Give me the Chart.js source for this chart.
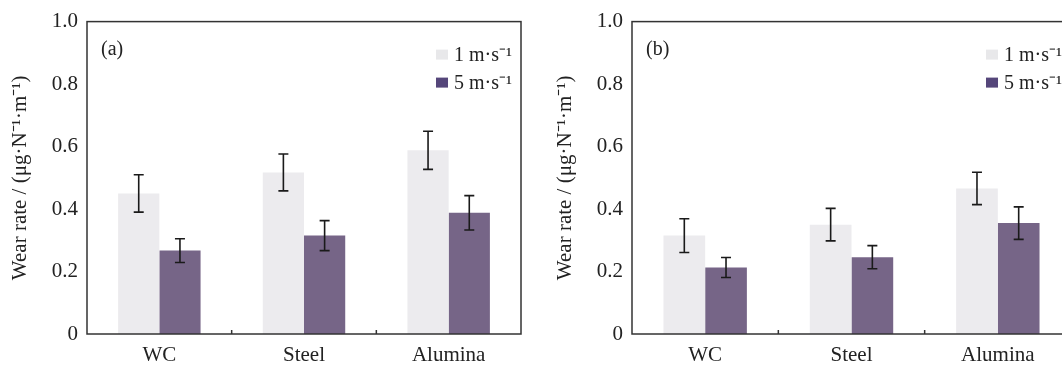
<!DOCTYPE html>
<html>
<head>
<meta charset="utf-8">
<script src="https://cdn.jsdelivr.net/npm/chart.js@4.4.1/dist/chart.umd.min.js"></script>
<style>
  html, body { margin: 0; padding: 0; background: #fff; }
  body { width: 1062px; height: 365px; overflow: hidden; position: relative; }
  canvas { position: absolute; top: 0; }
</style>
</head>
<body>
<canvas id="chartA" width="540" height="365" style="left:0"></canvas>
<canvas id="chartB" width="545" height="365" style="left:545px"></canvas>
<script>
const categories = ['WC', 'Steel', 'Alumina']
const seriesLabels = ['1 m·s⁻¹', '5 m·s⁻¹']
const panelLabels = ['(a)', '(b)']
const yTickLabels = ['0', '0.2', '0.4', '0.6', '0.8', '1.0']
const yTitle = 'Wear rate / (μg·N⁻¹·m⁻¹)'

// panel (a)
const slowA = [0.450, 0.517, 0.588]
const slowErrA = [0.060, 0.059, 0.061]
const fastA = [0.267, 0.315, 0.388]
const fastErrA = [0.038, 0.048, 0.055]

// panel (b)
const slowB = [0.315, 0.350, 0.466]
const slowErrB = [0.054, 0.052, 0.052]
const fastB = [0.213, 0.246, 0.355]
const fastErrB = [0.032, 0.037, 0.052]

const barColors = ['#ecebee', '#766587']
const swatchColors = ['#e8e8ea', '#55467a']
const serif = '"Liberation Serif", "Times New Roman", serif'
const ink = '#222'

const extrasPlugin = {
  id: 'extras',
  afterDatasetsDraw(chart, args, opts) {
    const { ctx, chartArea: area, scales: { x, y } } = chart
    ctx.save()
    // error bars
    ctx.strokeStyle = '#1a1a1a'
    ctx.lineWidth = 1.6
    chart.data.datasets.forEach((ds, i) => {
      const meta = chart.getDatasetMeta(i)
      meta.data.forEach((bar, j) => {
        const e = ds.errors[j]
        const top = y.getPixelForValue(ds.data[j] + e)
        const bot = y.getPixelForValue(ds.data[j] - e)
        ctx.beginPath()
        ctx.moveTo(bar.x, top); ctx.lineTo(bar.x, bot)
        ctx.moveTo(bar.x - 5, top); ctx.lineTo(bar.x + 5, top)
        ctx.moveTo(bar.x - 5, bot); ctx.lineTo(bar.x + 5, bot)
        ctx.stroke()
      })
    })
    // frame
    ctx.strokeStyle = '#333'
    ctx.lineWidth = 1.5
    ctx.strokeRect(area.left, area.top, area.right - area.left, area.bottom - area.top)
    // inner category boundary ticks
    ctx.beginPath()
    for (let i = 0; i < categories.length - 1; i++) {
      const bx = (x.getPixelForTick(i) + x.getPixelForTick(i + 1)) / 2
      ctx.moveTo(bx, area.bottom); ctx.lineTo(bx, area.bottom - 4)
    }
    ctx.stroke()
    // panel label
    ctx.fillStyle = ink
    ctx.font = '20px ' + serif
    ctx.textBaseline = 'middle'
    ctx.textAlign = 'left'
    ctx.fillText(opts.panel, area.left + 14, area.top + 28)
    // legend in top-right corner
    const widths = chart.data.datasets.map(ds => ctx.measureText(ds.label).width)
    const textX = area.right - 9 - Math.max(...widths)
    chart.data.datasets.forEach((ds, i) => {
      const cy = area.top + 33 + i * 28
      ctx.fillStyle = swatchColors[i]
      ctx.fillRect(textX - 18, cy - 5, 12, 10)
      ctx.fillStyle = ink
      ctx.fillText(ds.label, textX, cy + 1)
    })
    ctx.restore()
  }
}

function makeChart(id, panel, slow, slowErr, fast, fastErr) {
  const canvas = document.getElementById(id)
  return new Chart(canvas.getContext('2d'), {
    type: 'bar',
    data: {
      labels: categories,
      datasets: [
        { label: seriesLabels[0], data: slow, errors: slowErr, backgroundColor: barColors[0] },
        { label: seriesLabels[1], data: fast, errors: fastErr, backgroundColor: barColors[1] },
      ]
    },
    options: {
      responsive: false,
      animation: false,
      devicePixelRatio: 1,
      layout: { padding: { top: 19, right: 19, bottom: 0, left: 0 } },
      datasets: { bar: { categoryPercentage: 0.57, barPercentage: 1.0, borderWidth: 0 } },
      plugins: {
        legend: { display: false },
        tooltip: { enabled: false },
        extras: { panel },
      },
      scales: {
        x: {
          grid: { display: false, drawTicks: false },
          border: { display: false },
          ticks: { color: ink, padding: 9, font: { family: serif, size: 21 } },
          afterFit(s) { s.height = 31 },
        },
        y: {
          min: 0,
          max: 1,
          grid: { display: false, drawTicks: false },
          border: { display: false },
          ticks: {
            stepSize: 0.2,
            padding: 9,
            color: ink,
            font: { family: serif, size: 21 },
            callback: (v, i) => yTickLabels[i],
          },
          title: {
            display: true,
            text: yTitle,
            color: ink,
            font: { family: serif, size: 21 },
            padding: { top: 8, bottom: 0 },
          },
          afterFit(s) { s.width = 87 },
        },
      },
    },
    plugins: [extrasPlugin],
  })
}

makeChart('chartA', panelLabels[0], slowA, slowErrA, fastA, fastErrA)
makeChart('chartB', panelLabels[1], slowB, slowErrB, fastB, fastErrB)
</script>
</body>
</html>
